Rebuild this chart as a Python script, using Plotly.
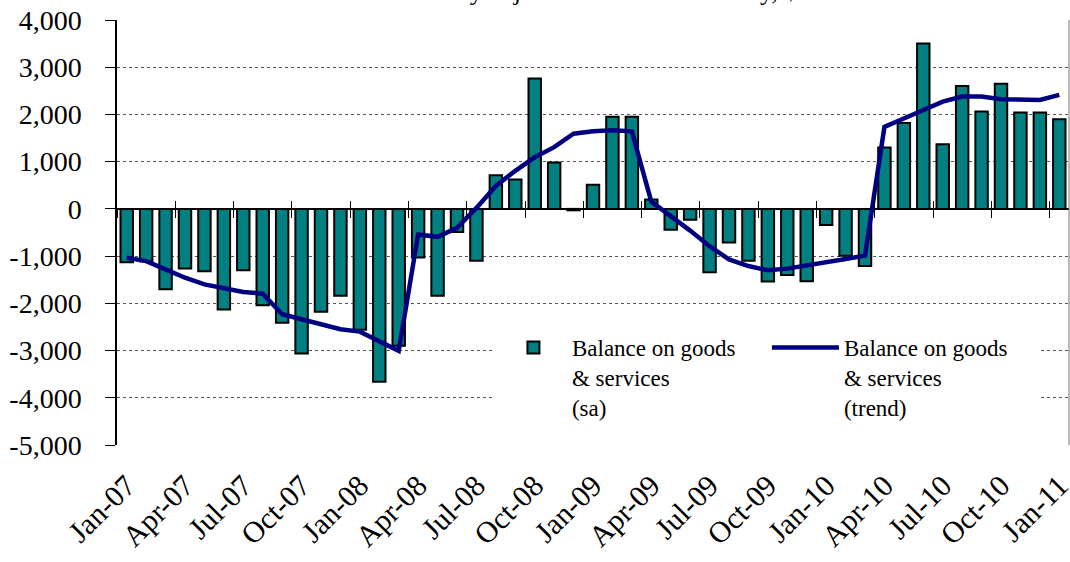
import plotly.graph_objects as go

months = [
    "Jan-07", "Feb-07", "Mar-07", "Apr-07", "May-07", "Jun-07", "Jul-07", "Aug-07", "Sep-07", "Oct-07", "Nov-07", "Dec-07",
    "Jan-08", "Feb-08", "Mar-08", "Apr-08", "May-08", "Jun-08", "Jul-08", "Aug-08", "Sep-08", "Oct-08", "Nov-08", "Dec-08",
    "Jan-09", "Feb-09", "Mar-09", "Apr-09", "May-09", "Jun-09", "Jul-09", "Aug-09", "Sep-09", "Oct-09", "Nov-09", "Dec-09",
    "Jan-10", "Feb-10", "Mar-10", "Apr-10", "May-10", "Jun-10", "Jul-10", "Aug-10", "Sep-10", "Oct-10", "Nov-10", "Dec-10",
    "Jan-11",
]

balance_sa = [
    -1130, -1110, -1700, -1260, -1320, -2130, -1300, -2040, -2410, -3060, -2180, -1840,
    -2560, -3660, -2900, -1030, -1840, -490, -1100, 710, 620, 2760, 980, -30,
    510, 1950, 1950, 200, -440, -230, -1340, -710, -1100, -1540, -1400, -1530,
    -340, -990, -1210, 1300, 1820, 3500, 1370, 2600, 2060, 2650, 2040, 2040,
    1900,
]

balance_trend = [
    -1035, -1105, -1280, -1458, -1600, -1690, -1760, -1796, -2232, -2338, -2444, -2549,
    -2599, -2796, -3007, -542, -592, -401, 20, 486, 807, 1093, 1307, 1593,
    1643, 1664, 1643, 155, -150, -460, -790, -1070, -1210, -1300, -1265, -1190,
    -1130, -1060, -990, 1736, 1914, 2093, 2271, 2379, 2379, 2321, 2307, 2307,
    2414,
]

x_tick_labels = ["Jan-07", "Apr-07", "Jul-07", "Oct-07", "Jan-08", "Apr-08", "Jul-08", "Oct-08", "Jan-09",
                 "Apr-09", "Jul-09", "Oct-09", "Jan-10", "Apr-10", "Jul-10", "Oct-10", "Jan-11"]
y_tick_values = [4000, 3000, 2000, 1000, 0, -1000, -2000, -3000, -4000, -5000]
y_tick_labels = ["4,000", "3,000", "2,000", "1,000", "0", "-1,000", "-2,000", "-3,000", "-4,000", "-5,000"]
boundary_ticks = [-0.5, 2.5, 5.5, 8.5, 11.5, 14.5, 17.5, 20.5, 23.5, 26.5, 29.5, 32.5, 35.5, 38.5, 41.5, 44.5, 47.5]

title_text = "Seasonally adjusted and trend monthly, $m"

FONT = "Liberation Serif"
y_min, y_max = -5000, 4000
zero_pos = (0 - y_min) / (y_max - y_min)

fig = go.Figure()
fig.add_trace(go.Bar(
    x=months, y=balance_sa,
    name="Balance on goods<br>& services<br>(sa)",
    marker=dict(color="#008080", line=dict(color="black", width=2)),
))
fig.add_trace(go.Scatter(
    x=months, y=balance_trend, mode="lines",
    name="Balance on goods<br>& services<br>(trend)",
    line=dict(color="#000080", width=4.5),
))

fig.update_layout(
    width=1070, height=562,
    margin=dict(l=117, r=1, t=20, b=117, autoexpand=False),
    paper_bgcolor="white", plot_bgcolor="white",
    font=dict(family=FONT, color="black", size=26),
    bargap=0.36,
    showlegend=True,
    legend=dict(
        orientation="h", x=0.397, y=0.28, xanchor="left", yanchor="top",
        bgcolor="white", font=dict(family=FONT, size=23, color="black"),
        entrywidth=190, entrywidthmode="pixels", itemwidth=67,
        tracegroupgap=0, valign="top",
    ),
    xaxis=dict(
        type="category", categoryorder="array", categoryarray=months,
        range=[-0.5, len(months) - 0.5], automargin=False,
        tickmode="array", tickvals=x_tick_labels, ticktext=x_tick_labels,
        tickangle=-45, ticks="", showgrid=False, showline=False, zeroline=False,
        tickfont=dict(family=FONT, size=30, color="black"),
        ticklabelstandoff=16,
    ),
    xaxis2=dict(
        overlaying="x", anchor="free", position=zero_pos, automargin=False,
        range=[-0.5, len(months) - 0.5], tickmode="array", tickvals=boundary_ticks,
        ticks="outside", ticklen=8, tickcolor="black", tickwidth=1,
        showticklabels=False, showgrid=False, showline=False, zeroline=False,
    ),
    xaxis3=dict(
        overlaying="x", anchor="free", position=zero_pos, automargin=False,
        range=[-0.5, len(months) - 0.5], tickmode="array", tickvals=boundary_ticks,
        ticks="inside", ticklen=8, tickcolor="black", tickwidth=1,
        showticklabels=False, showgrid=False, showline=False, zeroline=False,
    ),
    yaxis=dict(
        range=[y_min, y_max], tickmode="array", tickvals=y_tick_values, ticktext=y_tick_labels,
        ticks="outside", ticklen=10, tickcolor="black", automargin=False,
        showline=True, linecolor="black", linewidth=1.5, mirror=False,
        showgrid=True, gridcolor="#555555", gridwidth=1, griddash="dot",
        zeroline=True, zerolinecolor="black", zerolinewidth=1.5,
        tickfont=dict(family=FONT, size=28, color="black"),
        ticklabelstandoff=18,
    ),
    shapes=[dict(type="line", xref="paper", yref="paper", x0=1, x1=1, y0=0, y1=1,
                 line=dict(color="#777777", width=1))],
    annotations=[dict(text=title_text, xref="paper", yref="paper", x=0.5, y=1, yshift=12,
                      xanchor="center", yanchor="bottom", showarrow=False,
                      font=dict(family=FONT, size=26, color="black"))],
)

fig.add_trace(go.Scatter(x=[None], y=[None], xaxis="x2", showlegend=False, hoverinfo="skip"))
fig.add_trace(go.Scatter(x=[None], y=[None], xaxis="x3", showlegend=False, hoverinfo="skip"))

fig.write_html("out.html", config={"displayModeBar": False},
               post_script="document.body.style.margin='0';document.body.style.overflow='hidden';")
